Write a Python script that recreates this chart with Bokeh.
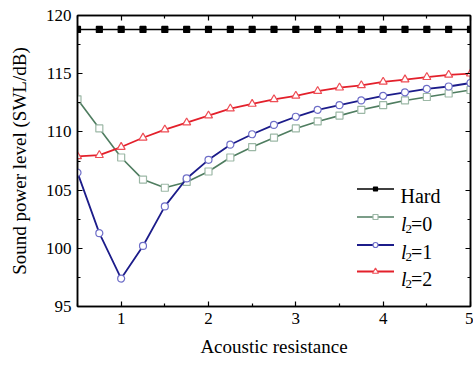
from bokeh.plotting import figure
from bokeh.models import Range1d, LinearAxis, FixedTicker, Label, CustomJSTickFormatter
from bokeh.embed import file_html
from bokeh.resources import INLINE

# ---- data ----
resistance = [0.5, 0.75, 1.0, 1.25, 1.5, 1.75, 2.0, 2.25, 2.5, 2.75, 3.0,
              3.25, 3.5, 3.75, 4.0, 4.25, 4.5, 4.75, 5.0]
hard = [118.8] * 19
l2_0 = [112.8, 110.3, 107.8, 105.9, 105.2, 105.7, 106.6, 107.8, 108.7, 109.5,
        110.3, 110.9, 111.4, 111.9, 112.3, 112.7, 113.0, 113.3, 113.6]
l2_1 = [106.5, 101.3, 97.4, 100.2, 103.6, 106.0, 107.6, 108.9, 109.8, 110.6,
        111.3, 111.9, 112.3, 112.7, 113.1, 113.4, 113.7, 113.9, 114.2]
l2_2 = [107.9, 108.0, 108.7, 109.5, 110.2, 110.8, 111.4, 112.0, 112.4, 112.8,
        113.1, 113.5, 113.8, 114.0, 114.3, 114.5, 114.7, 114.9, 115.0]
x_major = [1, 2, 3, 4, 5]
x_minor = [0.5, 1.5, 2.5, 3.5, 4.5]
y_major = [95, 100, 105, 110, 115, 120]
y_minor = [97.5, 102.5, 107.5, 112.5, 117.5]
legend_labels = ["Hard", "=0", "=1", "=2"]

FONT = "Liberation Serif"
X0, X1, Y0, Y1 = 0.5, 5.0, 95, 120
F_LEFT, F_RIGHT, F_TOP, F_BOTTOM = 77, 470, 15, 306

p = figure(width=473, height=365, output_backend="svg", toolbar_location=None,
           x_range=Range1d(X0, X1), y_range=Range1d(Y0, Y1),
           min_border_left=F_LEFT, min_border_right=473 - F_RIGHT, min_border_top=F_TOP,
           min_border_bottom=365 - F_BOTTOM, x_axis_location=None, y_axis_location=None)
p.grid.visible = False
p.outline_line_color = "black"
p.outline_line_width = 1.5
p.background_fill_color = "white"
p.border_fill_color = "white"


def style_axis(ax, ticks, minor, show_labels):
    ax.ticker = FixedTicker(ticks=ticks, minor_ticks=minor)
    ax.axis_line_color = "black"
    ax.axis_line_width = 1.5
    ax.major_tick_in = 5
    ax.major_tick_out = 0
    ax.minor_tick_in = 3
    ax.minor_tick_out = 0
    ax.major_tick_line_width = 1.2
    ax.minor_tick_line_width = 1.2
    ax.major_tick_line_color = "black"
    ax.minor_tick_line_color = "black"
    if show_labels:
        ax.major_label_text_font = FONT
        ax.major_label_text_font_size = "17px"
        ax.major_label_text_color = "black"
        ax.axis_label_text_font = FONT
        ax.axis_label_text_font_size = "19px"
        ax.axis_label_text_font_style = "normal"
        ax.axis_label_text_color = "black"
    else:
        ax.formatter = CustomJSTickFormatter(code="return ''")
        ax.major_label_standoff = 0


xb = LinearAxis(axis_label="Acoustic resistance")
style_axis(xb, x_major, x_minor, True)
xb.major_label_standoff = 6
xb.axis_label_standoff = 9
p.add_layout(xb, "below")

yl = LinearAxis(axis_label="Sound power level (SWL/dB)")
style_axis(yl, y_major, y_minor, True)
yl.major_label_standoff = 6
yl.axis_label_standoff = 13
p.add_layout(yl, "left")

xt = LinearAxis()
style_axis(xt, x_major, x_minor, False)
p.add_layout(xt, "above")

yr = LinearAxis()
style_axis(yr, y_major, y_minor, False)
p.add_layout(yr, "right")

# ---- series styles ----
styles = [
    dict(line_color="black", line_width=1.6, marker="square", size=6,
         fill_color="black", m_line="black", lsize=4),
    dict(line_color="#4f7d60", line_width=1.6, marker="square", size=7,
         fill_color="white", m_line="#9cb8a6", lsize=5),
    dict(line_color="#1c1c8a", line_width=1.8, marker="circle", size=7,
         fill_color="white", m_line="#6e6ec8", lsize=5),
    dict(line_color="#e3202b", line_width=1.8, marker="triangle", size=8,
         fill_color="white", m_line="#ee4e56", lsize=6),
]
series = [hard, l2_0, l2_1, l2_2]

for ys, st in zip(series, styles):
    p.line(resistance, ys, line_color=st["line_color"], line_width=st["line_width"])
    p.scatter(resistance, ys, marker=st["marker"], size=st["size"],
              fill_color=st["fill_color"], line_color=st["m_line"], line_width=1.2)


# ---- legend (laid out in screen pixels, converted through the frame) ----
def px_to_x(px):
    return X0 + (px - F_LEFT) / (F_RIGHT - F_LEFT) * (X1 - X0)


def py_to_y(py):
    return Y0 + (F_BOTTOM - py) / (F_BOTTOM - F_TOP) * (Y1 - Y0)


LEG_LINE_X0, LEG_LINE_X1, LEG_MARK_X = 356.5, 393.5, 375
LEG_ROWS = [188.5, 216.5, 244.5, 271]

for i, (st, row, lab) in enumerate(zip(styles, LEG_ROWS, legend_labels)):
    yy = py_to_y(row)
    p.line([px_to_x(LEG_LINE_X0), px_to_x(LEG_LINE_X1)], [yy, yy],
           line_color=st["line_color"], line_width=st["line_width"])
    p.scatter([px_to_x(LEG_MARK_X)], [yy], marker=st["marker"], size=st["lsize"],
              fill_color=st["fill_color"], line_color=st["m_line"], line_width=1.2)
    base = py_to_y(row + 7)
    if i == 0:
        p.add_layout(Label(x=px_to_x(400), y=base, text=lab, text_font=FONT,
                           text_font_size="20px", text_color="black",
                           text_baseline="alphabetic"))
    else:
        p.add_layout(Label(x=px_to_x(400.5), y=base, text="l", text_font=FONT,
                           text_font_size="20px", text_font_style="italic",
                           text_color="black", text_baseline="alphabetic"))
        p.add_layout(Label(x=px_to_x(405), y=py_to_y(row + 12), text="2",
                           text_font=FONT, text_font_size="13px",
                           text_color="black", text_baseline="alphabetic"))
        p.add_layout(Label(x=px_to_x(410.5), y=base, text=lab, text_font=FONT,
                           text_font_size="20px", text_color="black",
                           text_baseline="alphabetic"))

open("out.html", "w").write(file_html(p, INLINE))
